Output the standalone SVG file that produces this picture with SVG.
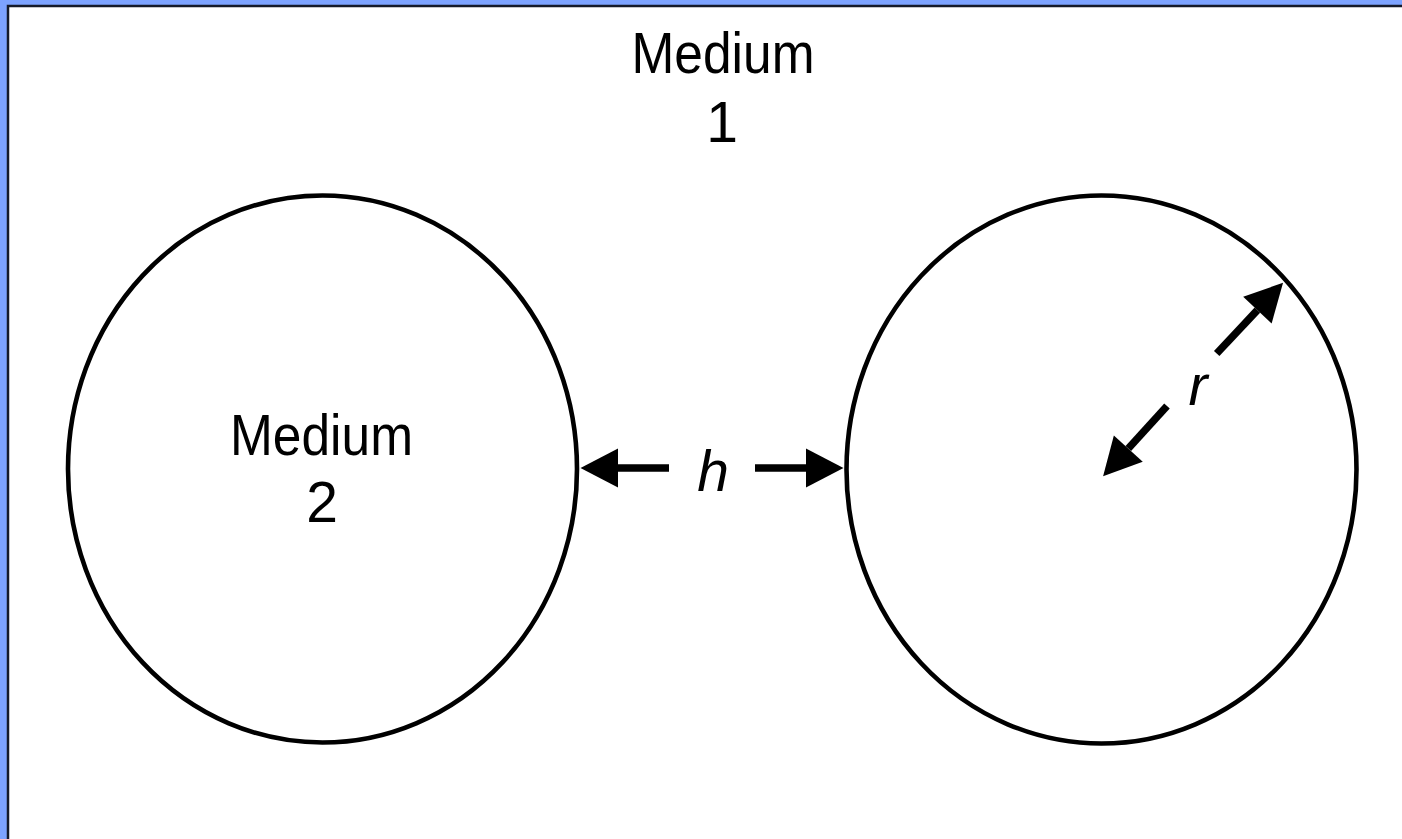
<svg xmlns="http://www.w3.org/2000/svg" width="1402" height="839" viewBox="0 0 1402 839">
<style>
.lbl{font-family:"Liberation Sans",Arial,sans-serif;font-size:57px;fill:#000;text-anchor:middle}
.it{font-style:italic}
.circ{fill:#fff;stroke:#000;stroke-width:4.6}
.shaft{stroke:#000;stroke-width:7.5;fill:none;marker-end:url(#head)}
</style>
<defs>
<marker id="head" markerUnits="userSpaceOnUse" markerWidth="40" markerHeight="40" refX="0" refY="19.5" orient="auto" overflow="visible">
<path d="M0,0 L37.5,19.5 L0,39 Z" fill="#000"/>
</marker>
</defs>
<rect x="0" y="0" width="1402" height="839" fill="#7DA3FF"/>
<rect x="8" y="6" width="1400" height="840" fill="#fff" stroke="#151a2a" stroke-width="2.5"/>
<g id="medium1">
<text class="lbl" x="723" y="73" textLength="183" lengthAdjust="spacingAndGlyphs">Medium</text>
<text class="lbl" x="722" y="142">1</text>
</g>
<g id="sphere-left">
<ellipse class="circ" cx="322.5" cy="469" rx="254.5" ry="273.5"/>
<text class="lbl" x="321.5" y="455" textLength="183" lengthAdjust="spacingAndGlyphs">Medium</text>
<text class="lbl" x="322" y="522">2</text>
</g>
<g id="sphere-right">
<ellipse class="circ" cx="1101.5" cy="469.5" rx="255" ry="274"/>
</g>
<g id="connectors">
<line class="shaft" x1="669" y1="468" x2="618" y2="468"/>
<line class="shaft" x1="755" y1="468" x2="806" y2="468"/>
<line class="shaft" x1="1216.7" y1="353.5" x2="1257.4" y2="310.1"/>
<line class="shaft" x1="1167" y1="406" x2="1128.3" y2="448.6"/>
<text class="lbl it" x="713" y="491">h</text>
<text class="lbl it" x="1198" y="405">r</text>
</g>
</svg>
